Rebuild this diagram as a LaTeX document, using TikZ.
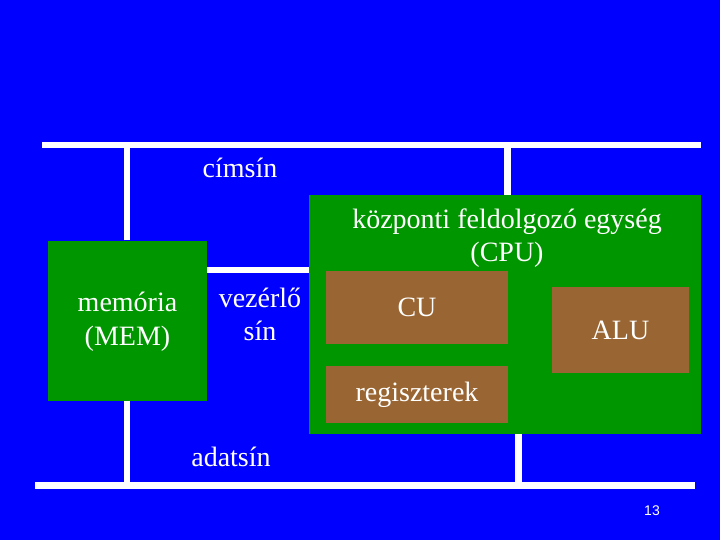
\documentclass[tikz,border=0pt]{standalone}
\usepackage{fontspec}
\setmainfont{Liberation Serif}
\newfontfamily\numfont{Liberation Sans}
\usetikzlibrary{calc}
\definecolor{bgblue}{RGB}{0,0,255}
\definecolor{boxgreen}{RGB}{0,150,0}
\definecolor{boxbrown}{RGB}{153,102,51}
\tikzset{
  bus/.style={draw=white, line width=6.5pt},
  greenbox/.style={fill=boxgreen, draw=none, inner sep=0pt},
  brownbox/.style={fill=boxbrown, draw=none, inner sep=0pt, text=white, font=\fontsize{28}{34}\selectfont},
  lbl/.style={text=white, inner sep=0pt, align=center, font=\fontsize{28}{33}\selectfont}
}
\begin{document}
\begin{tikzpicture}[x=1pt,y=-1pt]
\fill[bgblue] (0,0) rectangle (720,540);
\useasboundingbox (0,0) rectangle (720,540);
% bus end points
\coordinate (tl) at (42,145);
\coordinate (tr) at (701,145);
\coordinate (bl) at (35,485.5);
\coordinate (br) at (695,485.5);
\coordinate (cputop) at (507.5,195);
\coordinate (cpubot) at (518.5,434);
% boxes
\node[greenbox, minimum width=159pt, minimum height=160pt] (mem) at (127.5,320.5) {};
\node[greenbox, minimum width=392pt, minimum height=239pt] (cpu) at (505,314.5) {};
\node[brownbox, minimum width=182pt, minimum height=73pt] (cu) at (417,307) {CU};
\node[brownbox, minimum width=182pt, minimum height=57pt] (reg) at (417,394.5) {regiszterek};
\node[brownbox, minimum width=137pt, minimum height=86pt] (alu) at (620.5,330) {ALU};
% buses
\draw[bus] (tl) -- (tr);
\draw[bus] (bl) -- (br);
\draw[bus] (mem.north -| 127,0) -- (tl -| 127,0);
\draw[bus] (mem.south -| 127,0) -- (bl -| 127,0);
\draw[bus] (cputop) -- (cputop |- tl);
\draw[bus] (cpubot) -- (cpubot |- bl);
\draw[bus] (mem.east |- 0,270) -- (cpu.west |- 0,270);
% labels
\node[lbl, font=\fontsize{28}{34}\selectfont] (mlab) at (127.5,322) {memória\\(MEM)};
\node[lbl] (cpulab) at (507,238) {központi feldolgozó egység\\(CPU)};
\node[lbl] (cim) at (240,168) {címsín};
\node[lbl] (vez) at (260,314) {vezérlő\\sín};
\node[lbl] (adat) at (231,457) {adatsín};
\node[text=white, inner sep=0pt, font=\numfont\fontsize{14}{16}\selectfont] (num) at (652,511) {13};
\end{tikzpicture}
\end{document}
